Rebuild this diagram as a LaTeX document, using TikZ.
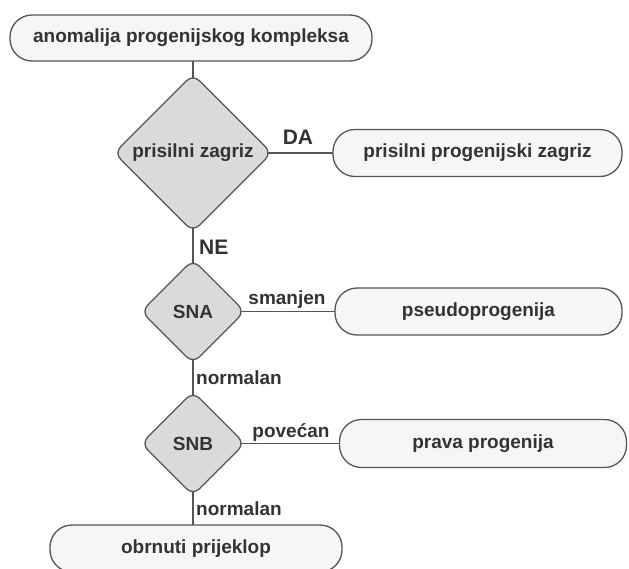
\documentclass[tikz,border=0pt]{standalone}
\usepackage{fontspec}
\setmainfont{Liberation Sans}
\usetikzlibrary{shapes.geometric,backgrounds}
\definecolor{edgecol}{HTML}{555555}
\definecolor{txtcol}{HTML}{333333}
\definecolor{decfill}{HTML}{DADADC}
\definecolor{boxfill}{HTML}{F6F6F6}
\begin{document}
\begin{tikzpicture}[x=1pt,y=-1pt,
  every node/.style={font=\fontsize{19}{22}\selectfont\bfseries, text=txtcol},
  termbox/.style={draw=edgecol, fill=boxfill, line width=1.3pt, rounded corners=22pt, inner sep=0pt},
  decision/.style={draw=edgecol, fill=decfill, line width=1.3pt, diamond, aspect=1, rounded corners=9pt, inner sep=0pt},
  conn/.style={draw=edgecol, line width=1.3pt},
  lbl/.style={inner sep=0pt},
  biglbl/.style={inner sep=0pt, font=\fontsize{21}{24}\selectfont\bfseries}]
\useasboundingbox (0,0) rectangle (629,568);
\node[termbox, minimum width=362pt, minimum height=46pt] (top) at (191,38) {anomalija progenijskog kompleksa};
\node[decision, minimum size=158pt] (d1) at (193,153) {prisilni zagriz};
\node[termbox, minimum width=289pt, minimum height=47pt] (b2) at (477.5,153) {prisilni progenijski zagriz};
\node[decision, minimum size=104pt] (d2) at (193,311.5) {SNA};
\node[termbox, minimum width=287pt, minimum height=47pt] (b3) at (478.5,311.5) {pseudoprogenija};
\node[decision, minimum size=104pt] (d3) at (193,443.5) {SNB};
\node[termbox, minimum width=287pt, minimum height=48pt] (b4) at (483,443.5) {prava progenija};
\node[termbox, minimum width=292pt, minimum height=47pt] (b5) at (196,548.5) {obrnuti prijeklop};
\coordinate (b5top) at (193,540);
\coordinate (topbot) at (193,38);
\begin{pgfonlayer}{background}
\draw[conn] (topbot) -- (d1.center);
\draw[conn] (d1.center) -- (d2.center);
\draw[conn] (d2.center) -- (d3.center);
\draw[conn] (d3.center) -- (b5top);
\draw[conn] (d1.center) -- (b2.center);
\draw[conn] (d2.center) -- (b3.center);
\draw[conn] (d3.center) -- (b4.center);
\end{pgfonlayer}
\node[biglbl] (lda) at (298,137) {DA};
\node[biglbl, anchor=west] (lne) at (199,247) {NE};
\node[lbl] (lsm) at (287,300) {smanjen};
\node[lbl] (lpo) at (291,432) {povećan};
\node[lbl, anchor=west] (ln1) at (196,378) {normalan};
\node[lbl, anchor=west] (ln2) at (196,509) {normalan};
\end{tikzpicture}
\end{document}
